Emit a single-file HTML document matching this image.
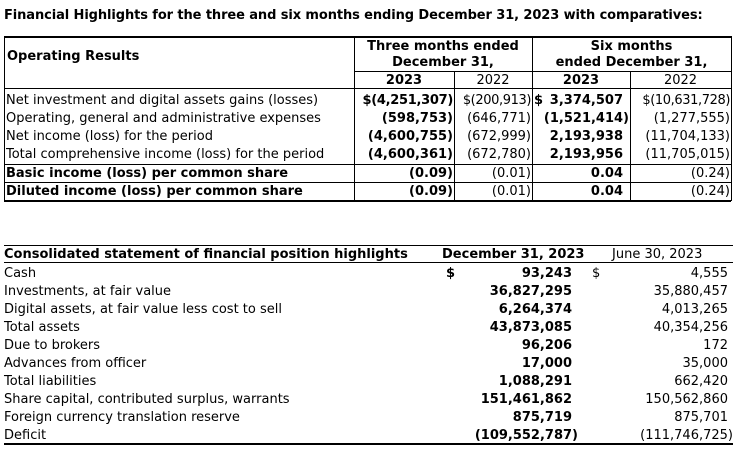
<!DOCTYPE html>
<html><head><meta charset="utf-8"><style>
body{margin:0;background:#fff;width:736px;height:449px;position:relative;overflow:hidden;font-family:"DejaVu Sans","Liberation Sans",sans-serif;font-size:13px;color:#000}
.t{position:absolute;white-space:nowrap;line-height:18px;height:18px;margin-top:1px}
.bt .t{margin-top:2px}
.b{font-weight:bold}
.r{text-align:right}
.c{text-align:center}
.h{position:absolute;height:0;border-top:1px solid #000}
.v{position:absolute;width:0;border-left:1px solid #000}
.p{padding-right:6px}
</style></head><body>
<div class="t b" style="left:4px;top:6px;letter-spacing:-0.1px">Financial Highlights for the three and six months ending December 31, 2023 with comparatives:</div>

<div class="h" style="left:4px;width:727px;top:36px;border-top-width:2px"></div>
<div class="h" style="left:354px;width:377px;top:71px"></div>
<div class="h" style="left:4px;width:727px;top:88px"></div>
<div class="h" style="left:4px;width:727px;top:164px"></div>
<div class="h" style="left:4px;width:727px;top:182px"></div>
<div class="h" style="left:4px;width:727px;top:200px;border-top-width:2px"></div>
<div class="v" style="left:4px;top:36px;height:165px"></div>
<div class="v" style="left:354px;top:36px;height:165px"></div>
<div class="v" style="left:454px;top:71px;height:130px"></div>
<div class="v" style="left:532px;top:36px;height:165px"></div>
<div class="v" style="left:630px;top:71px;height:130px"></div>
<div class="v" style="left:731px;top:36px;height:165px"></div>

<div class="t b" style="left:7px;top:47px">Operating Results</div>
<div class="t b c" style="left:354px;width:178px;top:37px">Three months ended</div>
<div class="t b c" style="left:354px;width:178px;top:53px">December 31,</div>
<div class="t b c" style="left:532px;width:199px;top:37px">Six months</div>
<div class="t b c" style="left:532px;width:199px;top:53px">ended December 31,</div>
<div class="t b c" style="left:354px;width:100px;top:71px">2023</div>
<div class="t c" style="left:454px;width:78px;top:71px">2022</div>
<div class="t b c" style="left:532px;width:98px;top:71px">2023</div>
<div class="t c" style="left:630px;width:101px;top:71px">2022</div>

<div class="t" style="left:6px;top:91px">Net investment and digital assets gains (losses)</div>
<div class="t" style="left:6px;top:109px">Operating, general and administrative expenses</div>
<div class="t" style="left:6px;top:127px">Net income (loss) for the period</div>
<div class="t" style="left:6px;top:145px">Total comprehensive income (loss) for the period</div>
<div class="t b" style="left:6px;top:164px">Basic income (loss) per common share</div>
<div class="t b" style="left:6px;top:182px">Diluted income (loss) per common share</div>

<div class="t b r" style="left:355px;width:98px;top:91px;letter-spacing:-0.3px">$(4,251,307)</div>
<div class="t b r" style="left:355px;width:98px;top:109px">(598,753)</div>
<div class="t b r" style="left:355px;width:98px;top:127px">(4,600,755)</div>
<div class="t b r" style="left:355px;width:98px;top:145px">(4,600,361)</div>
<div class="t b r" style="left:355px;width:98px;top:164px">(0.09)</div>
<div class="t b r" style="left:355px;width:98px;top:182px">(0.09)</div>

<div class="t r" style="left:455px;width:76px;top:91px;letter-spacing:-0.4px">$(200,913)</div>
<div class="t r" style="left:455px;width:76px;top:109px">(646,771)</div>
<div class="t r" style="left:455px;width:76px;top:127px">(672,999)</div>
<div class="t r" style="left:455px;width:76px;top:145px">(672,780)</div>
<div class="t r" style="left:455px;width:76px;top:164px">(0.01)</div>
<div class="t r" style="left:455px;width:76px;top:182px">(0.01)</div>

<div class="t b" style="left:534px;top:91px">$</div>
<div class="t b r p" style="left:533px;width:90px;top:91px">3,374,507</div>
<div class="t b r" style="left:533px;width:96px;top:109px">(1,521,414)</div>
<div class="t b r p" style="left:533px;width:90px;top:127px">2,193,938</div>
<div class="t b r p" style="left:533px;width:90px;top:145px">2,193,956</div>
<div class="t b r p" style="left:533px;width:90px;top:164px">0.04</div>
<div class="t b r p" style="left:533px;width:90px;top:182px">0.04</div>

<div class="t r" style="left:631px;width:99px;top:91px;letter-spacing:-0.4px">$(10,631,728)</div>
<div class="t r" style="left:631px;width:99px;top:109px">(1,277,555)</div>
<div class="t r" style="left:631px;width:99px;top:127px">(11,704,133)</div>
<div class="t r" style="left:631px;width:99px;top:145px">(11,705,015)</div>
<div class="t r" style="left:631px;width:99px;top:164px">(0.24)</div>
<div class="t r" style="left:631px;width:99px;top:182px">(0.24)</div>

<div class="h" style="left:4px;width:729px;top:245px"></div>
<div class="h" style="left:4px;width:729px;top:262px"></div>
<div class="h" style="left:4px;width:729px;top:443px;border-top-width:2px"></div>

<div class="bt">
<div class="t b" style="left:4px;top:244px">Consolidated statement of financial position highlights</div>
<div class="t b" style="left:442px;top:244px">December 31, 2023</div>
<div class="t" style="left:612px;top:244px">June 30, 2023</div>

<div class="t" style="left:4px;top:263px">Cash</div>
<div class="t" style="left:4px;top:281px">Investments, at fair value</div>
<div class="t" style="left:4px;top:299px">Digital assets, at fair value less cost to sell</div>
<div class="t" style="left:4px;top:317px">Total assets</div>
<div class="t" style="left:4px;top:335px">Due to brokers</div>
<div class="t" style="left:4px;top:353px">Advances from officer</div>
<div class="t" style="left:4px;top:371px">Total liabilities</div>
<div class="t" style="left:4px;top:389px">Share capital, contributed surplus, warrants</div>
<div class="t" style="left:4px;top:407px">Foreign currency translation reserve</div>
<div class="t" style="left:4px;top:425px">Deficit</div>

<div class="t b" style="left:446px;top:263px">$</div>
<div class="t" style="left:592px;top:263px">$</div>
<div class="t b r" style="left:440px;width:132px;top:263px">93,243</div>
<div class="t b r" style="left:440px;width:132px;top:281px">36,827,295</div>
<div class="t b r" style="left:440px;width:132px;top:299px">6,264,374</div>
<div class="t b r" style="left:440px;width:132px;top:317px">43,873,085</div>
<div class="t b r" style="left:440px;width:132px;top:335px">96,206</div>
<div class="t b r" style="left:440px;width:132px;top:353px">17,000</div>
<div class="t b r" style="left:440px;width:132px;top:371px">1,088,291</div>
<div class="t b r" style="left:440px;width:132px;top:389px">151,461,862</div>
<div class="t b r" style="left:440px;width:132px;top:407px">875,719</div>
<div class="t b r" style="left:440px;width:138px;top:425px">(109,552,787)</div>

<div class="t r" style="left:600px;width:128px;top:263px">4,555</div>
<div class="t r" style="left:600px;width:128px;top:281px">35,880,457</div>
<div class="t r" style="left:600px;width:128px;top:299px">4,013,265</div>
<div class="t r" style="left:600px;width:128px;top:317px">40,354,256</div>
<div class="t r" style="left:600px;width:128px;top:335px">172</div>
<div class="t r" style="left:600px;width:128px;top:353px">35,000</div>
<div class="t r" style="left:600px;width:128px;top:371px">662,420</div>
<div class="t r" style="left:600px;width:128px;top:389px">150,562,860</div>
<div class="t r" style="left:600px;width:128px;top:407px">875,701</div>
<div class="t r" style="left:600px;width:133px;top:425px">(111,746,725)</div>
</div>
</body></html>
